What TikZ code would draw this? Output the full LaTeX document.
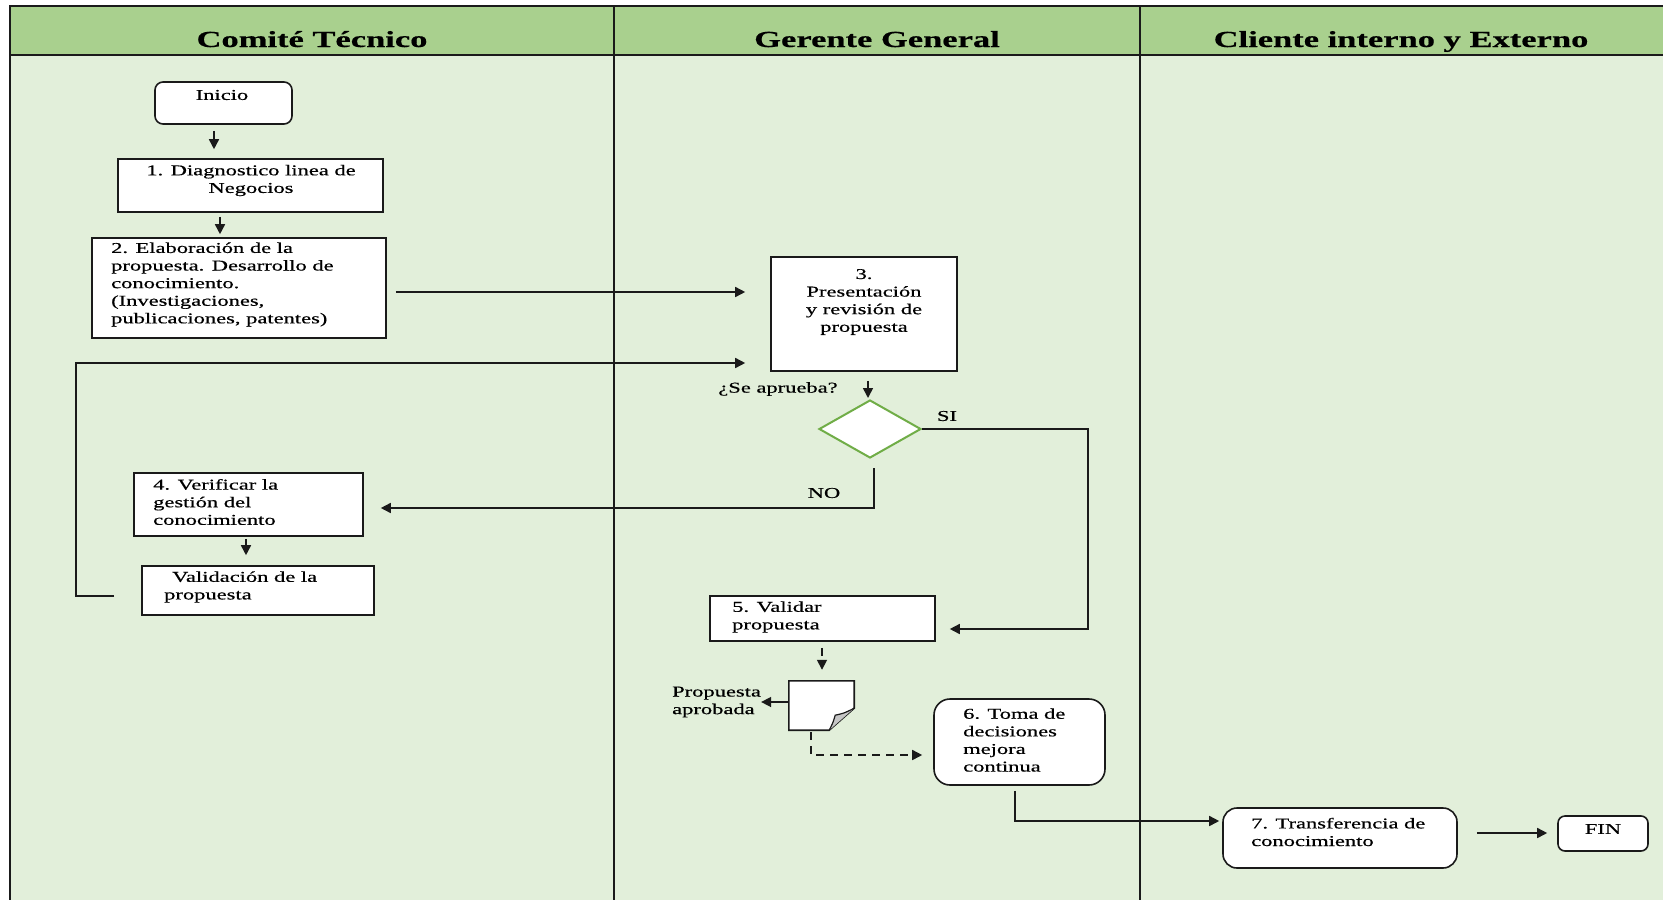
\documentclass[tikz,border=0pt]{standalone}
\usepackage{fontspec}
\setmainfont{Liberation Serif}[FakeStretch=1.5,FakeBold=0.5]
\usetikzlibrary{arrows.meta,shapes.geometric}
\definecolor{hdr}{HTML}{A9D08E}
\definecolor{lane}{HTML}{E2EFDA}
\definecolor{okgreen}{HTML}{70AD47}
\definecolor{ink}{HTML}{1A1A1A}
\begin{document}
\begin{tikzpicture}[x=1pt,y=-1pt,
  box/.style={draw=ink,line width=1.6pt,fill=white,inner sep=0pt},
  rbox/.style={box,rounded corners=10pt},
  txt/.style={font=\fontsize{15}{17.6}\selectfont,inner sep=0pt,align=left},
  ctxt/.style={txt,align=center},
  hd/.style={font=\fontsize{23}{26}\selectfont\bfseries,inner sep=0pt,anchor=base},
  frame/.style={draw=ink,line width=2pt},
  arr/.style={draw=ink,line width=1.6pt,-{Triangle[length=10pt,width=10pt]}},
  dasharr/.style={arr,dash pattern=on 8pt off 6pt},
]
% canvas and swimlanes
\fill[white] (0,0) rectangle (1663,900);
\useasboundingbox (0,0) rectangle (1663,900);
\fill[lane] (9.5,6.4) rectangle (1663,900);
\fill[hdr] (9.5,6.4) rectangle (1663,55);
\draw[frame] (1663,6.4) -- (9.5,6.4) -- (9.5,900);
\draw[frame] (9.5,55) -- (1663,55);
\draw[frame] (614,6.4) -- (614,900);
\draw[frame] (1140,6.4) -- (1140,900);

\node[hd] (h1) at (312,47) {Comité Técnico};
\node[hd] (h2) at (877,47) {Gerente General};
\node[hd] (h3) at (1401,47) {Cliente interno y Externo};

% Comité Técnico lane
\node[rbox,rounded corners=8pt,minimum width=137pt,minimum height=42pt] (ini) at (223.5,103) {};
\node[ctxt] (init) at (222,95) {Inicio};

\node[box,minimum width=265pt,minimum height=53pt] (b1) at (250.5,185.5) {};
\node[ctxt] (b1t) at (251,180.5) {1. Diagnostico linea de\\Negocios};

\node[box,minimum width=294pt,minimum height=100pt] (b2) at (239,288) {};
\node[txt,anchor=west] (b2t) at (111,284.5) {2. Elaboración de la\\propuesta. Desarrollo de\\conocimiento.\\(Investigaciones,\\publicaciones, patentes)};

\node[box,minimum width=229pt,minimum height=63pt] (b4) at (248.5,504.5) {};
\node[txt,anchor=west] (b4t) at (153,502) {4. Verificar la\\gestión del\\conocimiento};

\node[box,minimum width=232pt,minimum height=49pt] (bv) at (258,590.5) {};
\node[txt,anchor=west] (bvt) at (164,587) {\hspace{8pt}Validación de la\\propuesta};

% Gerente General lane
\node[box,minimum width=186pt,minimum height=114pt] (b3) at (864,314) {};
\node[ctxt] (b3t) at (864,302) {3.\\Presentación\\y revisión de\\propuesta};

\node[diamond,draw=okgreen,line width=2pt,fill=white,inner sep=0pt,
      minimum width=102pt,minimum height=58pt] (dia) at (870,429) {};
\node[ctxt] (q) at (778,389) {¿Se aprueba?};
\node[ctxt] (si) at (947,416) {SI};
\node[ctxt] (no) at (824,493) {NO};

\node[box,minimum width=225pt,minimum height=45pt] (b5) at (822.5,618.5) {};
\node[txt,anchor=west] (b5t) at (732,617) {5. Validar\\propuesta};

% document symbol with curled corner
\node[inner sep=0pt,minimum width=65pt,minimum height=49pt] (doc) at (821.5,705.5) {};
\draw[draw=ink,line width=1.6pt,fill=white] (doc.north west) -- (doc.north east)
  -- ([yshift=22pt]doc.south east) -- ([xshift=-25pt]doc.south east)
  -- (doc.south west) -- cycle;
\filldraw[draw=ink,line width=1.2pt,fill=gray!45] ([yshift=22pt]doc.south east)
  .. controls ([xshift=-10pt,yshift=17pt]doc.south east) .. ([xshift=-19pt,yshift=15pt]doc.south east)
  .. controls ([xshift=-21pt,yshift=8pt]doc.south east) .. ([xshift=-25pt]doc.south east);
\node[txt,anchor=west] (pa) at (672,702) {Propuesta\\aprobada};

\node[rbox,rounded corners=16pt,minimum width=171pt,minimum height=86pt] (b6) at (1019.5,742) {};
\node[txt,anchor=west] (b6t) at (963,740) {6. Toma de\\decisiones\\mejora\\continua};

% Cliente interno y Externo lane
\node[rbox,rounded corners=14pt,minimum width=234pt,minimum height=60pt] (b7) at (1340,838) {};
\node[txt,anchor=west] (b7t) at (1251,832) {7. Transferencia de\\conocimiento};

\node[rbox,rounded corners=7pt,minimum width=90pt,minimum height=35pt] (fin) at (1603,833.5) {};
\node[ctxt] (fint) at (1603,829) {FIN};

% connectors
\draw[arr] ([xshift=-9.5pt,yshift=-6pt]ini.south) -- ([xshift=-36.5pt,yshift=9pt]b1.north);
\draw[arr] ([xshift=-30.5pt,yshift=-4pt]b1.south) -- ([xshift=-19pt,yshift=3pt]b2.north);
\draw[arr] ([xshift=9pt,yshift=-4pt]b2.east) -- ([xshift=-25pt,yshift=22pt]b3.west);
\draw[arr] ([xshift=-27pt,yshift=-5.5pt]bv.west) -- ++(-38,0) |- ([xshift=-25pt,yshift=-49pt]b3.west);
\draw[arr] ([xshift=4pt,yshift=-9pt]b3.south) -- ([xshift=-2pt,yshift=1pt]dia.north);
\draw[arr] (dia.east) -- ++(166,0) |- ([xshift=14pt,yshift=-10.5pt]b5.east);
\draw[arr] ([xshift=4pt,yshift=-9pt]dia.south) |- ([xshift=17pt,yshift=-3.5pt]b4.east);
\draw[arr] ([xshift=-2.5pt,yshift=-2pt]b4.south) -- ([xshift=-12pt,yshift=10pt]bv.north);
\draw[dasharr] ([xshift=-0.5pt,yshift=-6pt]b5.south) -- ([xshift=0.5pt,yshift=11pt]doc.north);
\draw[arr] (doc.west |- pa.east) -- (pa.east);
\draw[dasharr] ([xshift=-10.5pt,yshift=-2pt]doc.south) |- ([xshift=-11pt,yshift=-13pt]b6.west);
\draw[arr] ([xshift=-4.5pt,yshift=-5pt]b6.south) |- ([xshift=-3pt,yshift=17pt]b7.west);
\draw[arr] ([xshift=19pt,yshift=5pt]b7.east) -- ([xshift=-10pt,yshift=0.5pt]fin.west);
\end{tikzpicture}
\end{document}
